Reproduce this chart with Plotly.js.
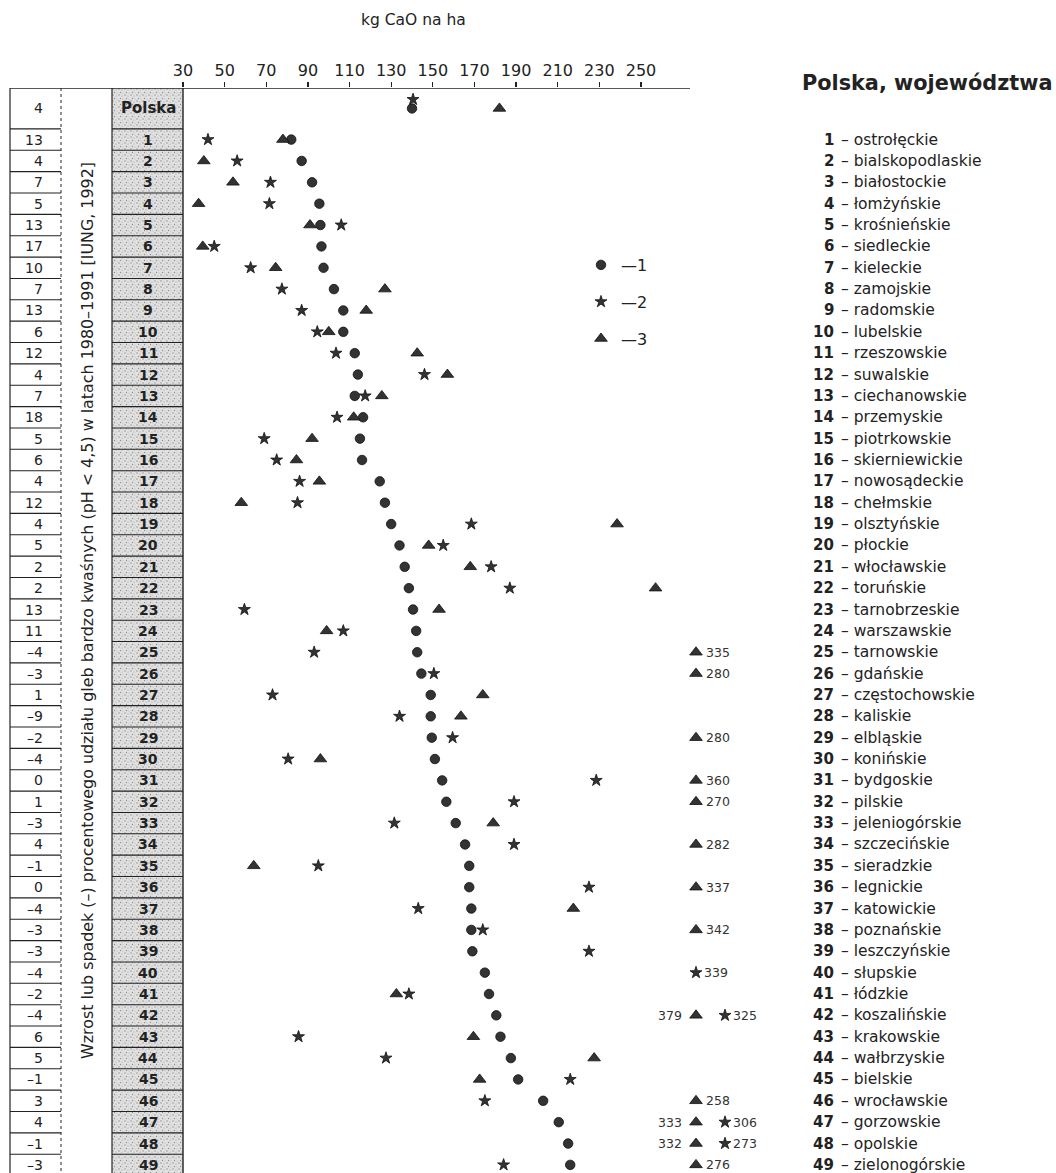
<!DOCTYPE html>
<html>
<head>
<meta charset="utf-8">
<script src="https://cdn.plot.ly/plotly-3.0.1.min.js"></script>
<style>
  html, body { margin: 0; padding: 0; background: #fff; }
  #chart { width: 1056px; height: 1173px; }
</style>
</head>
<body>
<div id="chart"></div>
<script>
// Row identifiers: the whole country first, then the 49 voivodeships
const regionIds = ['Polska', '1', '2', '3', '4', '5', '6', '7', '8', '9', '10',
  '11', '12', '13', '14', '15', '16', '17', '18', '19', '20',
  '21', '22', '23', '24', '25', '26', '27', '28', '29', '30',
  '31', '32', '33', '34', '35', '36', '37', '38', '39', '40',
  '41', '42', '43', '44', '45', '46', '47', '48', '49'];

const regionNames = ['ostrołęckie', 'bialskopodlaskie', 'białostockie', 'łomżyńskie',
  'krośnieńskie', 'siedleckie', 'kieleckie', 'zamojskie', 'radomskie', 'lubelskie',
  'rzeszowskie', 'suwalskie', 'ciechanowskie', 'przemyskie', 'piotrkowskie',
  'skierniewickie', 'nowosądeckie', 'chełmskie', 'olsztyńskie', 'płockie',
  'włocławskie', 'toruńskie', 'tarnobrzeskie', 'warszawskie', 'tarnowskie',
  'gdańskie', 'częstochowskie', 'kaliskie', 'elbląskie', 'konińskie',
  'bydgoskie', 'pilskie', 'jeleniogórskie', 'szczecińskie', 'sieradzkie',
  'legnickie', 'katowickie', 'poznańskie', 'leszczyńskie', 'słupskie',
  'łódzkie', 'koszalińskie', 'krakowskie', 'wałbrzyskie', 'bielskie',
  'wrocławskie', 'gorzowskie', 'opolskie', 'zielonogórskie'];

// Change of the share of very acid soils (pH < 4.5), 1980–1991, percentage points
const acidChange = [4, 13, 4, 7, 5, 13, 17, 10, 7, 13, 6,
  12, 4, 7, 18, 5, 6, 4, 12, 4, 5,
  2, 2, 13, 11, -4, -3, 1, -9, -2, -4,
  0, 1, -3, 4, -1, 0, -4, -3, -3, -4,
  -2, -4, 6, 5, -1, 3, 4, -1, -3];

// kg CaO per ha — series 1 (circles)
const series1 = [140, 82, 87, 92, 95.5, 96, 96.5, 97.5, 102.5, 107, 107,
  112.5, 114, 112.5, 116.5, 115, 116, 124.5, 127, 130, 134,
  136.5, 138.5, 140.5, 142, 142.5, 144.5, 149, 149, 149.5, 151,
  154.5, 156.5, 161, 165.5, 167.5, 167.5, 168.5, 168.5, 169, 175,
  177, 180.5, 182.5, 187.5, 191, 203, 210.5, 215, 216];

// kg CaO per ha — series 2 (stars)
const series2 = [140.5, 42, 56, 72, 71.5, 106, 45, 62.5, 77.5, 87, 94.5,
  103.5, 146, 117.5, 104, 69, 75, 86, 85, 168.5, 155,
  178, 187, 59.5, 107, 93, 150.5, 73, 134, 159.5, 80.5,
  228.5, 189, 131.5, 189, 95, 225, 143, 174, 225, 339,
  138.5, 325, 85.5, 127.5, 216, 175, 306, 273, 184];

// kg CaO per ha — series 3 (triangles)
const series3 = [182, 78, 40, 54, 37.5, 91, 39.5, 74.5, 127, 118, 100,
  142.5, 157, 125.5, 112, 92, 84.5, 95.5, 58, 238.5, 148,
  168, 257, 153, 99, 335, 280, 174, 163.5, 280, 96,
  360, 270, 179, 282, 64, 337, 217.5, 342, null, null,
  132.5, 379, 169.5, 227.5, 172.5, 258, 333, 332, 276];

const xTicks = [30, 50, 70, 90, 110, 130, 150, 170, 190, 210, 230, 250];

// ---------------------------------------------------------------------------
const W = 1056, H = 1173;
const FONT = 'DejaVu Sans, Liberation Sans, Arial, sans-serif';
const INK = '#222';

// horizontal scale: 30 kg sits at x = 183 px, ~2.08 px per kg
const X0_PX = 183, PX_PER_KG = 2.0818;
const pxToKg = px => 30 + (px - X0_PX) / PX_PER_KG;
const xRange = [pxToKg(0), pxToKg(W)];

// vertical scale in row units (row 1 centred at 139.6 px, rows 21.36 px tall)
const TOP_PX = 88, ROW1_PX = 139.6, ROW_H = 21.36;
const yTop = 1 - (ROW1_PX - TOP_PX) / ROW_H;
const yBottom = 1 + (H - ROW1_PX) / ROW_H;
const rowY = regionIds.map((r, i) => i === 0 ? (yTop + 0.5) / 2 : i);
const rowBot = i => i + 0.5;
const px = v => v / W;

// values beyond the printed scale are put in a side column with their number
const SCALE_MAX = 257;
const SIDE_A = pxToKg(696);
const SIDE_B = pxToKg(725);

const xs1 = [], ys1 = [], xs2 = [], ys2 = [], xs3 = [], ys3 = [];
const annotations = [];
const labelFont = { family: FONT, size: 12.5, color: '#333' };

regionIds.forEach((id, i) => {
  const y = rowY[i];
  const c = series1[i], s = series2[i], t = series3[i];
  const sOver = s != null && s > SCALE_MAX;
  const tOver = t != null && t > SCALE_MAX;

  if (c != null) { xs1.push(c); ys1.push(y); }

  if (s != null) {
    let sx = s, sy = y;
    if (sOver) sx = tOver ? SIDE_B : SIDE_A;
    // a star sitting on a circle is lifted above it
    if (!sOver && c != null && Math.abs(s - c) < 3) sy = y - 0.42;
    xs2.push(sx); ys2.push(sy);
    if (sOver) {
      annotations.push({ x: sx, y: y, xref: 'x', yref: 'y', text: String(s),
        showarrow: false, xanchor: 'left', yanchor: 'middle', xshift: 6, font: labelFont });
    }
  }

  if (t != null) {
    const tx = tOver ? SIDE_A : t;
    xs3.push(tx); ys3.push(y);
    if (tOver) {
      const left = sOver;
      annotations.push({ x: tx, y: y, xref: 'x', yref: 'y', text: String(t),
        showarrow: false, xanchor: left ? 'right' : 'left', yanchor: 'middle',
        xshift: left ? -12 : 8, font: labelFont });
    }
  }
});

// ---------------------------------------------------------------------------
// left-hand table
const shapes = [];
const line = (x0, y0, x1, y1, xref, yref, w, dash) => ({
  type: 'line', x0, y0, x1, y1, xref, yref,
  line: { color: INK, width: w || 1.2, dash: dash || 'solid' }, layer: 'above'
});

// top rule running into the kg scale
shapes.push(line(px(10), yTop, px(690), yTop, 'paper', 'y', 1.3));
// verticals
shapes.push(line(px(10), yTop, px(10), yBottom, 'paper', 'y', 1.2));
shapes.push(line(px(61), yTop, px(61), yBottom, 'paper', 'y', 1, 'dot'));
shapes.push(line(px(112), yTop, px(112), yBottom, 'paper', 'y', 1.2));
shapes.push(line(px(183), yTop, px(183), yBottom, 'paper', 'y', 1.4));

regionIds.forEach((id, i) => {
  const yb = rowBot(i);
  shapes.push(line(px(10), yb, px(61), yb, 'paper', 'y', 1.1));
  shapes.push(line(px(112), yb, px(183), yb, 'paper', 'y', 1.1));

  const v = acidChange[i];
  annotations.push({ x: px(45), y: rowY[i], xref: 'paper', yref: 'y',
    text: v < 0 ? '–' + Math.abs(v) : String(v), showarrow: false,
    xanchor: 'right', yanchor: 'middle', font: { family: FONT, size: 14, color: INK } });

  annotations.push({ x: px(148), y: rowY[i], xref: 'paper', yref: 'y',
    text: '<b>' + id + '</b>', showarrow: false, xanchor: 'center', yanchor: 'middle',
    font: { family: FONT, size: i === 0 ? 15 : 14, color: INK } });
});

annotations.push({ x: px(87), y: 1 + (611 - ROW1_PX) / ROW_H, xref: 'paper', yref: 'y',
  text: 'Wzrost lub spadek (–) procentowego udziału gleb bardzo kwaśnych (pH < 4,5) w latach 1980–1991 [IUNG, 1992]',
  textangle: -90, showarrow: false, xanchor: 'center', yanchor: 'middle',
  font: { family: FONT, size: 15.9, color: INK } });

// scale caption
annotations.push({ x: px(413), y: 1 - 20 / H, xref: 'paper', yref: 'paper',
  text: 'kg CaO na ha', showarrow: false, xanchor: 'center', yanchor: 'middle',
  font: { family: FONT, size: 15.5, color: INK } });

// right-hand key of voivodeships
annotations.push({ x: px(800), y: 1 - 83 / H, xref: 'paper', yref: 'paper',
  text: '<b>Polska, województwa</b>', showarrow: false, xanchor: 'left', yanchor: 'middle',
  font: { family: FONT, size: 20.8, color: INK } });

regionNames.forEach((name, k) => {
  const i = k + 1;
  annotations.push({ x: px(836), y: rowY[i], xref: 'paper', yref: 'y',
    text: '<b>' + regionIds[i] + '</b>', showarrow: false, xanchor: 'right', yanchor: 'middle',
    font: { family: FONT, size: 15, color: INK } });
  annotations.push({ x: px(839), y: rowY[i], xref: 'paper', yref: 'y',
    text: '– ' + name, showarrow: false, xanchor: 'left', yanchor: 'middle',
    font: { family: FONT, size: 15.5, color: INK } });
});

// stippled fill of the region-number column
const stipple = "<svg xmlns='http://www.w3.org/2000/svg' width='71' height='1085'>" +
  "<defs><pattern id='p' width='6' height='6' patternUnits='userSpaceOnUse'>" +
  "<rect width='6' height='6' fill='#e1e1e1'/>" +
  "<circle cx='1' cy='1' r='0.7' fill='#888'/>" +
  "<circle cx='4' cy='2' r='0.6' fill='#9c9c9c'/>" +
  "<circle cx='2.5' cy='4.5' r='0.7' fill='#8e8e8e'/>" +
  "<circle cx='5' cy='5' r='0.5' fill='#aaa'/>" +
  "</pattern></defs><rect width='71' height='1085' fill='url(#p)'/></svg>";

const images = [{
  source: 'data:image/svg+xml;charset=utf-8,' + encodeURIComponent(stipple),
  xref: 'paper', yref: 'paper', x: px(112), y: 1 - TOP_PX / H,
  sizex: px(71), sizey: (H - TOP_PX) / H, sizing: 'stretch',
  xanchor: 'left', yanchor: 'top', layer: 'below'
}];

// ---------------------------------------------------------------------------
const markerBase = { color: '#333', line: { color: '#111', width: 0.8 } };
const traces = [
  { x: xs1, y: ys1, name: '—1', legendgroup: 'g1', type: 'scatter', mode: 'markers',
    cliponaxis: false, hoverinfo: 'skip',
    marker: Object.assign({ symbol: 'circle', size: 9.5 }, markerBase) },
  { x: xs2, y: ys2, name: '—2', legendgroup: 'g2', type: 'scatter', mode: 'markers',
    cliponaxis: false, hoverinfo: 'skip',
    marker: Object.assign({ symbol: 'star', size: 9 }, markerBase) },
  { x: xs3, y: ys3, name: '—3', legendgroup: 'g3', type: 'scatter', mode: 'markers',
    cliponaxis: false, hoverinfo: 'skip',
    marker: Object.assign({ symbol: 'triangle-up', size: 11 }, markerBase) }
];

const layout = {
  width: W, height: H,
  margin: { l: 0, r: 0, t: 0, b: 0, pad: 0 },
  paper_bgcolor: '#fff', plot_bgcolor: 'rgba(0,0,0,0)',
  font: { family: FONT, color: INK },
  showlegend: true,
  legend: {
    x: px(581), y: 1 - 248 / H, xanchor: 'left', yanchor: 'top',
    bgcolor: 'rgba(0,0,0,0)', borderwidth: 0,
    traceorder: 'grouped', tracegroupgap: 13,
    font: { family: FONT, size: 16, color: INK }
  },
  xaxis: {
    domain: [0, 1], range: xRange, side: 'top',
    tickmode: 'array', tickvals: xTicks, ticktext: xTicks.map(String),
    ticks: 'outside', ticklen: 5, tickwidth: 1.2, tickcolor: INK,
    tickfont: { family: FONT, size: 16, color: INK },
    showgrid: false, zeroline: false, showline: false, fixedrange: true
  },
  yaxis: {
    domain: [0, 1 - TOP_PX / H], range: [yBottom, yTop],
    visible: false, showgrid: false, zeroline: false, fixedrange: true
  },
  shapes, annotations, images
};

Plotly.newPlot('chart', traces, layout, { staticPlot: true, displayModeBar: false });
</script>
</body>
</html>
